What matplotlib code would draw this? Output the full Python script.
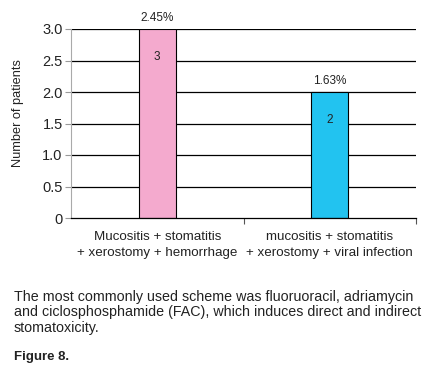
import matplotlib
matplotlib.use("Agg")
import matplotlib.pyplot as plt

categories = ["Mucositis + stomatitis\n+ xerostomy + hemorrhage",
              "mucositis + stomatitis\n+ xerostomy + viral infection"]
patients = [3, 2]
percents = ["2.45%", "1.63%"]
colors = ["#F4AACE", "#22C3F0"]
yticks = [0, 0.5, 1.0, 1.5, 2.0, 2.5, 3.0]
ytick_labels = ["0", "0.5", "1.0", "1.5", "2.0", "2.5", "3.0"]

plt.rcParams['font.family'] = ['Liberation Sans', 'DejaVu Sans']

fig = plt.figure(figsize=(4.26, 3.74), dpi=100)
ax = fig.add_axes([71/426, 1-218/374, (416-71)/426, (218-29)/374])

x = list(range(len(categories)))
ax.set_axisbelow(True)
for yv in yticks[1:]:
    ax.axhline(yv, color="black", lw=0.9, zorder=0)
bars = ax.bar(x, patients, width=0.215, color=colors, edgecolor="black", linewidth=0.8, zorder=2)

for xi, v, p in zip(x, patients, percents):
    ax.text(xi, v + 0.08, p, ha="center", va="bottom", fontsize=8.5, color="#222222")
    ax.text(xi, v - 0.44, str(v), ha="center", va="center", fontsize=8.5, color="#222222")

ax.set_xlim(-0.5, 1.5)
ax.set_ylim(0, 3.0)
ax.set_yticks(yticks)
ax.set_yticklabels(ytick_labels, fontsize=10.5, color="#222222")
ax.set_xticks([0.5, 1.5])
ax.set_xticklabels([])
ax.tick_params(axis="x", length=4, color="#555555", width=0.8)
ax.tick_params(axis="y", length=4, color="#999999", width=0.8, pad=2)
for xi, c in zip(x, categories):
    ax.text(xi, -0.2, c, ha="center", va="top", fontsize=9.6, color="#222222",
            linespacing=1.45, transform=ax.transData)

ax.spines["top"].set_visible(False)
ax.spines["right"].set_visible(False)
ax.spines["left"].set_color("#aaaaaa")
ax.spines["left"].set_linewidth(0.8)
ax.spines["bottom"].set_color("black")
ax.spines["bottom"].set_linewidth(0.9)

fig.text(18/426, 1-113/374, "Number of patients", rotation=90, ha="center", va="center",
         fontsize=9.2, color="#222222")

caption = ("The most commonly used scheme was fluoruoracil, adriamycin\n"
           "and ciclosphosphamide (FAC), which induces direct and indirect\n"
           "stomatoxicity.")
fig.text(14/426, 1-290/374, caption, ha="left", va="top", fontsize=10.3,
         color="#222222", linespacing=1.12)
fig.text(14/426, 1-351/374, "Figure 8.", ha="left", va="top", fontsize=9.5,
         fontweight="bold", color="#222222")

fig.savefig("out.png", dpi=100)
